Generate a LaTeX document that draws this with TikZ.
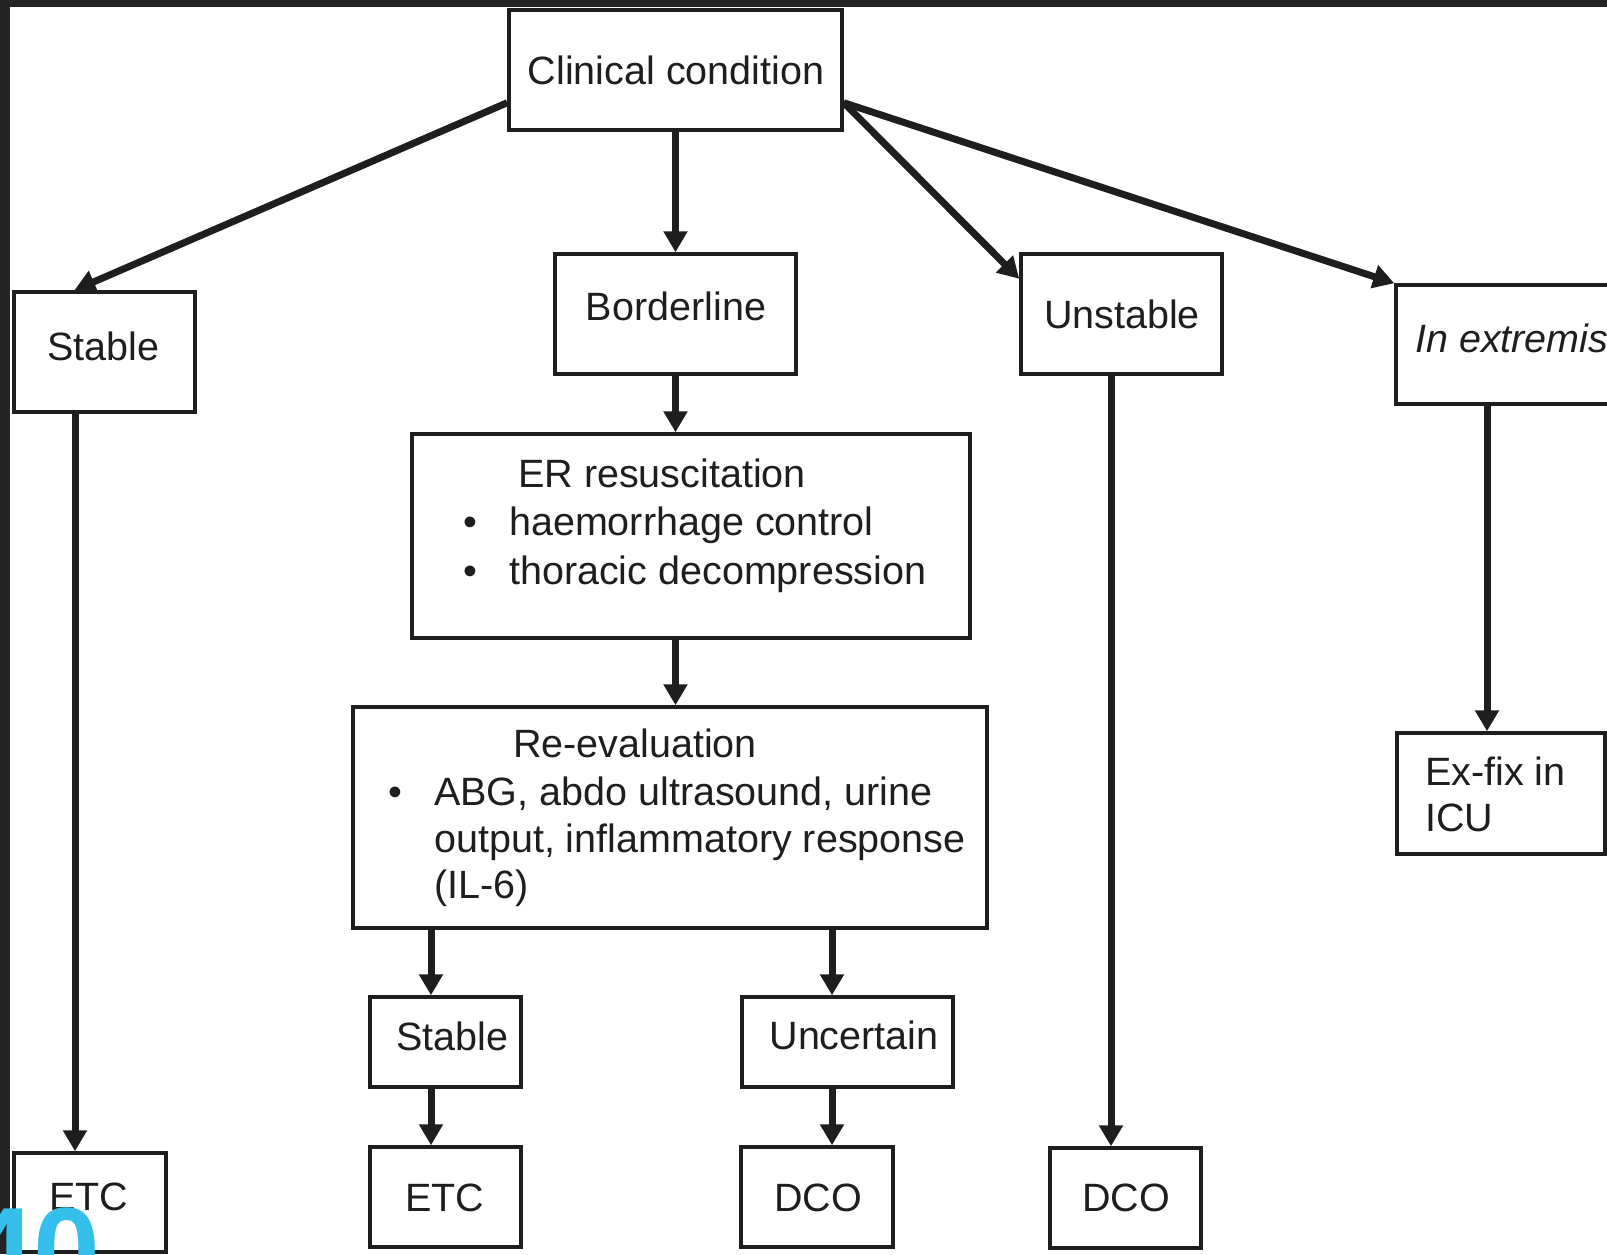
\documentclass[tikz,border=0pt]{standalone}
\usepackage{fontspec}
\setmainfont{Liberation Sans}
\usetikzlibrary{arrows.meta,calc}
\definecolor{ink}{HTML}{1E1E1E}
\definecolor{framecol}{HTML}{242424}
\definecolor{wmcol}{HTML}{35BFEC}
\begin{document}
\begin{tikzpicture}[x=1pt,y=-1pt,
  box/.style={draw=ink, line width=3.5pt, inner sep=0pt},
  arr/.style={draw=ink, line width=7pt, -{Triangle[length=21pt,width=23pt]}},
  txt/.style={inner sep=0pt, text=ink, font=\fontsize{39.5}{48}\selectfont},
]
\useasboundingbox (0,0) rectangle (1607,1254);
\fill[white] (0,0) rectangle (1607,1254);
\clip (0,0) rectangle (1607,1254);

% boxes
\node[box, minimum width=333pt, minimum height=120pt] (clin) at (675.5,70) {};
\node[box, minimum width=181pt, minimum height=120pt] (stabL) at (104.5,352) {};
\node[box, minimum width=241pt, minimum height=120pt] (bord) at (675.5,314) {};
\node[box, minimum width=201pt, minimum height=120pt] (unst) at (1121.5,314) {};
\node[box, minimum width=254pt, minimum height=119pt] (extr) at (1523,344.5) {};
\node[box, minimum width=558pt, minimum height=204pt] (er) at (691,536) {};
\node[box, minimum width=634pt, minimum height=221pt] (reev) at (670,817.5) {};
\node[box, minimum width=208pt, minimum height=121pt] (exfix) at (1501,793.5) {};
\node[box, minimum width=151pt, minimum height=90pt] (stabM) at (445.5,1042) {};
\node[box, minimum width=211pt, minimum height=90pt] (unc) at (847.5,1042) {};
\node[box, minimum width=152pt, minimum height=99pt] (etcL) at (90,1202.5) {};
\node[box, minimum width=151pt, minimum height=100pt] (etcM) at (445.5,1197) {};
\node[box, minimum width=152pt, minimum height=100pt] (dcoM) at (817,1197) {};
\node[box, minimum width=151pt, minimum height=100pt] (dcoR) at (1125.5,1198) {};

% texts
\node[txt, anchor=base] (tclin) at (676,84) {Clinical condition};
\node[txt, anchor=base] (tstabL) at (103,360) {Stable};
\node[txt, anchor=base] (tbord) at (676,320) {Borderline};
\node[txt, anchor=base] (tunst) at (1122,328) {Unstable};
\node[txt, anchor=base west, font=\fontsize{39.5}{48}\selectfont\itshape] (textr) at (1415,352) {In extremis};
\node[txt, anchor=base west] (ter) at (518,487) {ER resuscitation};
\node[txt, anchor=base] (tb1) at (470,535) {•};
\node[txt, anchor=base west] (ter1) at (509,535) {haemorrhage control};
\node[txt, anchor=base] (tb2) at (470,584) {•};
\node[txt, anchor=base west] (ter2) at (509,584) {thoracic decompression};
\node[txt, anchor=base west] (treev) at (513,757) {Re-evaluation};
\node[txt, anchor=base] (tb3) at (395,805) {•};
\node[txt, anchor=base west] (trv1) at (434,805) {ABG, abdo ultrasound, urine};
\node[txt, anchor=base west] (trv2) at (434,852) {output, inflammatory response};
\node[txt, anchor=base west] (trv3) at (434,898) {(IL-6)};
\node[txt, anchor=base west] (tex1) at (1425,785) {Ex-fix in};
\node[txt, anchor=base west] (tex2) at (1425,831) {ICU};
\node[txt, anchor=base] (tstabM) at (452,1050) {Stable};
\node[txt, anchor=base] (tunc) at (854,1049) {Uncertain};
\node[txt, anchor=base] (tetcL) at (89,1210) {ETC};
\node[txt, anchor=base] (tetcM) at (445,1211) {ETC};
\node[txt, anchor=base] (tdcoM) at (818,1211) {DCO};
\node[txt, anchor=base] (tdcoR) at (1126,1211) {DCO};

% connector columns
\coordinate (cA) at (431,0);
\coordinate (cB) at (832,0);
\coordinate (cC) at (1111,0);
\coordinate (cD) at (75,0);
\coordinate (cE) at (1487,0);

% arrows
\draw[arr] (clin.191) -- (stabL.116);
\draw[arr] (clin.south) -- (bord.north);
\draw[arr] (clin.349) -- (unst.161);
\draw[arr] (clin.349) -- (extr.north west);
\draw[arr] (bord.south) -- (bord.south |- er.north);
\draw[arr] (er.south -| bord.south) -- (reev.north -| bord.south);
\draw[arr] (reev.south -| cA) -- (stabM.north -| cA);
\draw[arr] (reev.south -| cB) -- (unc.north -| cB);
\draw[arr] (stabM.south -| cA) -- (etcM.north -| cA);
\draw[arr] (unc.south -| cB) -- (dcoM.north -| cB);
\draw[arr] (unst.south -| cC) -- (dcoR.north -| cC);
\draw[arr] (stabL.south -| cD) -- (etcL.north -| cD);
\draw[arr] (extr.south -| cE) -- (exfix.north -| cE);

% dark frame edges
\fill[framecol] (0,0) rectangle (1607,7);
\fill[framecol] (0,0) rectangle (10,1254);

% cropped watermark digits
\node[anchor=base west, inner sep=0pt, text=wmcol, font=\fontsize{120}{120}\selectfont\bfseries] (wmark) at (-33,1291) {40};
\end{tikzpicture}
\end{document}
